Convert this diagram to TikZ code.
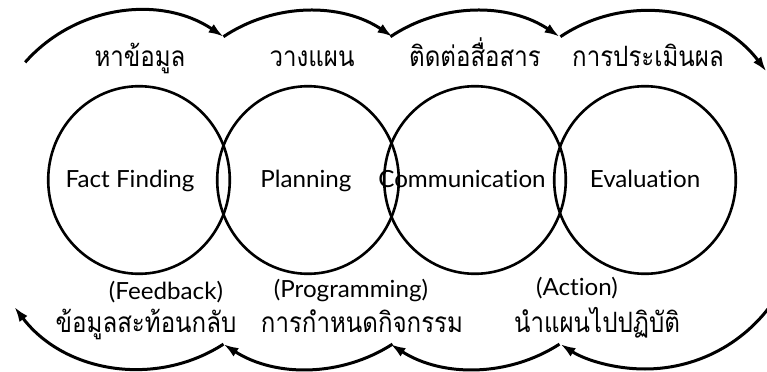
\documentclass[tikz,border=0pt]{standalone}
\usepackage{fontspec}
\setmainfont{Lato}[Ligatures=NoCommon,FakeStretch=1.025]
\newfontfamily\thaifont[Script=Thai,FakeStretch=0.86]{Loma}
\usepackage{tikz}
\usetikzlibrary{arrows.meta,positioning,calc,shapes.geometric}

\begin{document}
\begin{tikzpicture}[x=0.5pt,y=0.5pt,
    flow/.style={line width=1.5pt, -{Latex[length=7.5pt,width=5pt]}},
    stage/.style={ellipse, draw, line width=1.3pt, minimum width=90.8pt, minimum height=93.8pt, inner sep=0pt},
    eng/.style={font=\fontsize{11.8}{13}\selectfont, anchor=base, inner sep=0pt},
    thai/.style={font=\thaifont\fontsize{14}{16}\selectfont, anchor=base, inner sep=0pt}]
    \useasboundingbox (0,0) rectangle (767,371);
    \clip (0,0) rectangle (767,371);

    % Stages
    \foreach \i/\x in {1/139,2/308,3/475,4/645} {
        \node[stage] (c\i) at (\x,191) {};
        \coordinate (t\i) at ($(c\i)+(0,17)$);
        \coordinate (b\i) at ($(c\i)+(0,-33)$);
    }
    \node[eng] (ff) at (130,184) {Fact Finding};
    \node[eng] (pl) at (306,184) {Planning};
    \node[eng] (co) at (462,184) {Communication};
    \node[eng] (ev) at (645,184) {Evaluation};

    % Upper cycle
    \draw[flow] (t1) ++(138.5:152) arc (138.5:56.2:152);
    \foreach \i in {2,3}
        \draw[flow] (t\i) ++(123.8:152) arc (123.8:56.2:152);
    \draw[flow] (t4) ++(123.8:152) arc (123.8:37:152);

    % Lower cycle (back)
    \draw[flow] (b4) ++(-30:156) arc (-30:-122.8:156);
    \foreach \i in {3,2}
        \draw[flow] (b\i) ++(-57.2:156) arc (-57.2:-122.8:156);
    \draw[flow] (b1) ++(-57.2:156) arc (-57.2:-143:156);

    % Thai labels
    \node[thai] (hf) at (140,305) {หาข้อมูล};
    \node[thai] (hp) at (312,305) {วางแผน};
    \node[thai] (hc) at (475,305) {ติดต่อสื่อสาร};
    \node[thai] (he) at (648,305) {การประเมินผล};

    \node[eng] (fb) at (166,72) {(Feedback)};
    \node[thai] (hfb) at (146,39) {ข้อมูลสะท้อนกลับ};
    \node[eng] (pg) at (351,74) {(Programming)};
    \node[thai] (hpg) at (362,39) {การกำหนดกิจกรรม};
    \node[eng] (ac) at (577,76) {(Action)};
    \node[thai] (hac) at (597,39) {นำแผนไปปฏิบัติ};
\end{tikzpicture}
\end{document}
